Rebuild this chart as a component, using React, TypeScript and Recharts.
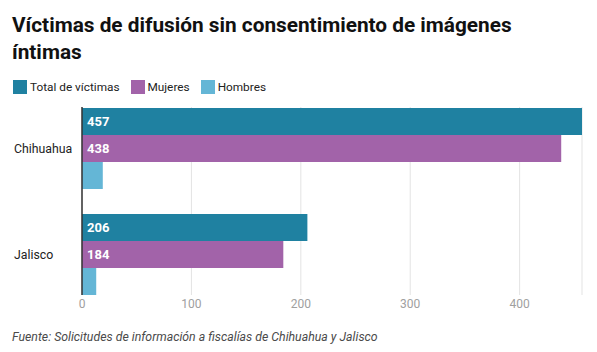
import React from 'react';
import { BarChart, Bar, XAxis, YAxis, CartesianGrid, ReferenceLine, LabelList } from 'recharts';

const categories = ['Chihuahua', 'Jalisco'];
const totalVictimas = [457, 206];
const mujeres = [438, 184];
const hombres = [19, 13];
const seriesNames = ['Total de víctimas', 'Mujeres', 'Hombres'];
const seriesColors = ['#1f81a1', '#a263a9', '#64b6d6'];
const xTicks = [0, 100, 200, 300, 400];
const title = ['Víctimas de difusión sin consentimiento de imágenes', 'íntimas'];
const source = 'Fuente: Solicitudes de información a fiscalías de Chihuahua y Jalisco';

const data = categories.map((c, i) => ({
  name: c,
  total: totalVictimas[i],
  mujeres: mujeres[i],
  hombres: hombres[i],
}));
const keys = ['total', 'mujeres', 'hombres'];

const FONT = 'Roboto, "Noto Sans", sans-serif';

const YTick = (props: any) => (
  <text x={14} y={props.y + 4.5} fontSize={12.3} fill="#222" fontFamily={FONT} textAnchor="start">
    {props.payload.value}
  </text>
);

const XTick = (props: any) => (
  <text x={props.x} y={props.y + 1} fontSize={12} fill="#a0a0a0" fontFamily={FONT} textAnchor="middle">
    {props.payload.value}
  </text>
);

const gridLine = (p: any) => {
  const top = Math.min(p.y1, p.y2) + 12;
  const bot = Math.max(p.y1, p.y2) - 12;
  return <line key={`g-${p.x1}`} x1={p.x1} x2={p.x2} y1={top} y2={bot} stroke="#e3e3e3" strokeWidth={1} />;
};

const axisLine = (p: any) => {
  const top = Math.min(p.y1, p.y2) + 12;
  const bot = Math.max(p.y1, p.y2) - 12;
  return <line x1={p.x1} x2={p.x2} y1={top} y2={bot} stroke="#333" strokeWidth={1.5} />;
};

export default function App() {
  return (
    <div style={{ position: 'absolute', left: 0, top: 0, width: 597, height: 352, fontFamily: FONT, background: '#fff' }}>
      <div style={{ position: 'absolute', left: 12, top: 12, fontSize: 20.8, fontWeight: 700, lineHeight: '27px', color: '#111', whiteSpace: 'nowrap' }}>
        {title.map((t, i) => (
          <div key={i}>{t}</div>
        ))}
      </div>
      <div style={{ position: 'absolute', left: 13, top: 80, display: 'flex', alignItems: 'center', fontSize: 11.8, color: '#222', lineHeight: '14px' }}>
        {seriesNames.map((n, i) => (
          <div key={n} style={{ display: 'flex', alignItems: 'center', marginRight: 11 }}>
            <span style={{ display: 'inline-block', width: 14, height: 14, background: seriesColors[i], marginRight: 3 }} />
            <span>{n}</span>
          </div>
        ))}
      </div>
      <div style={{ position: 'absolute', left: 0, top: 0 }}>
        <BarChart
          width={597}
          height={352}
          data={data}
          layout="vertical"
          margin={{ top: 95, right: 15, bottom: 0, left: 12 }}
          barSize={27}
          barGap={0}
        >
          <CartesianGrid horizontal={false} vertical={gridLine} />
          <XAxis
            type="number"
            domain={[0, 457]}
            ticks={xTicks}
            axisLine={false}
            tickLine={false}
            tickSize={0}
            tickMargin={0}
            tick={<XTick />}
            height={45}
            interval={0}
          />
          <YAxis type="category" dataKey="name" width={70} axisLine={false} tickLine={false} tick={<YTick />} />
          {keys.map((k, i) => (
            <Bar key={k} dataKey={k} name={seriesNames[i]} fill={seriesColors[i]} isAnimationActive={false}>
              {i < 2 ? (
                <LabelList
                  dataKey={k}
                  position="insideLeft"
                  offset={5}
                  fill="#fff"
                  fontSize={13}
                  fontWeight={700}
                  fontFamily={FONT}
                />
              ) : null}
            </Bar>
          ))}
          <ReferenceLine x={0} shape={axisLine} ifOverflow="visible" />
        </BarChart>
      </div>
      <div style={{ position: 'absolute', left: 12, top: 330, fontSize: 12.3, fontStyle: 'italic', color: '#4a4a4a', whiteSpace: 'nowrap' }}>
        {source}
      </div>
    </div>
  );
}
